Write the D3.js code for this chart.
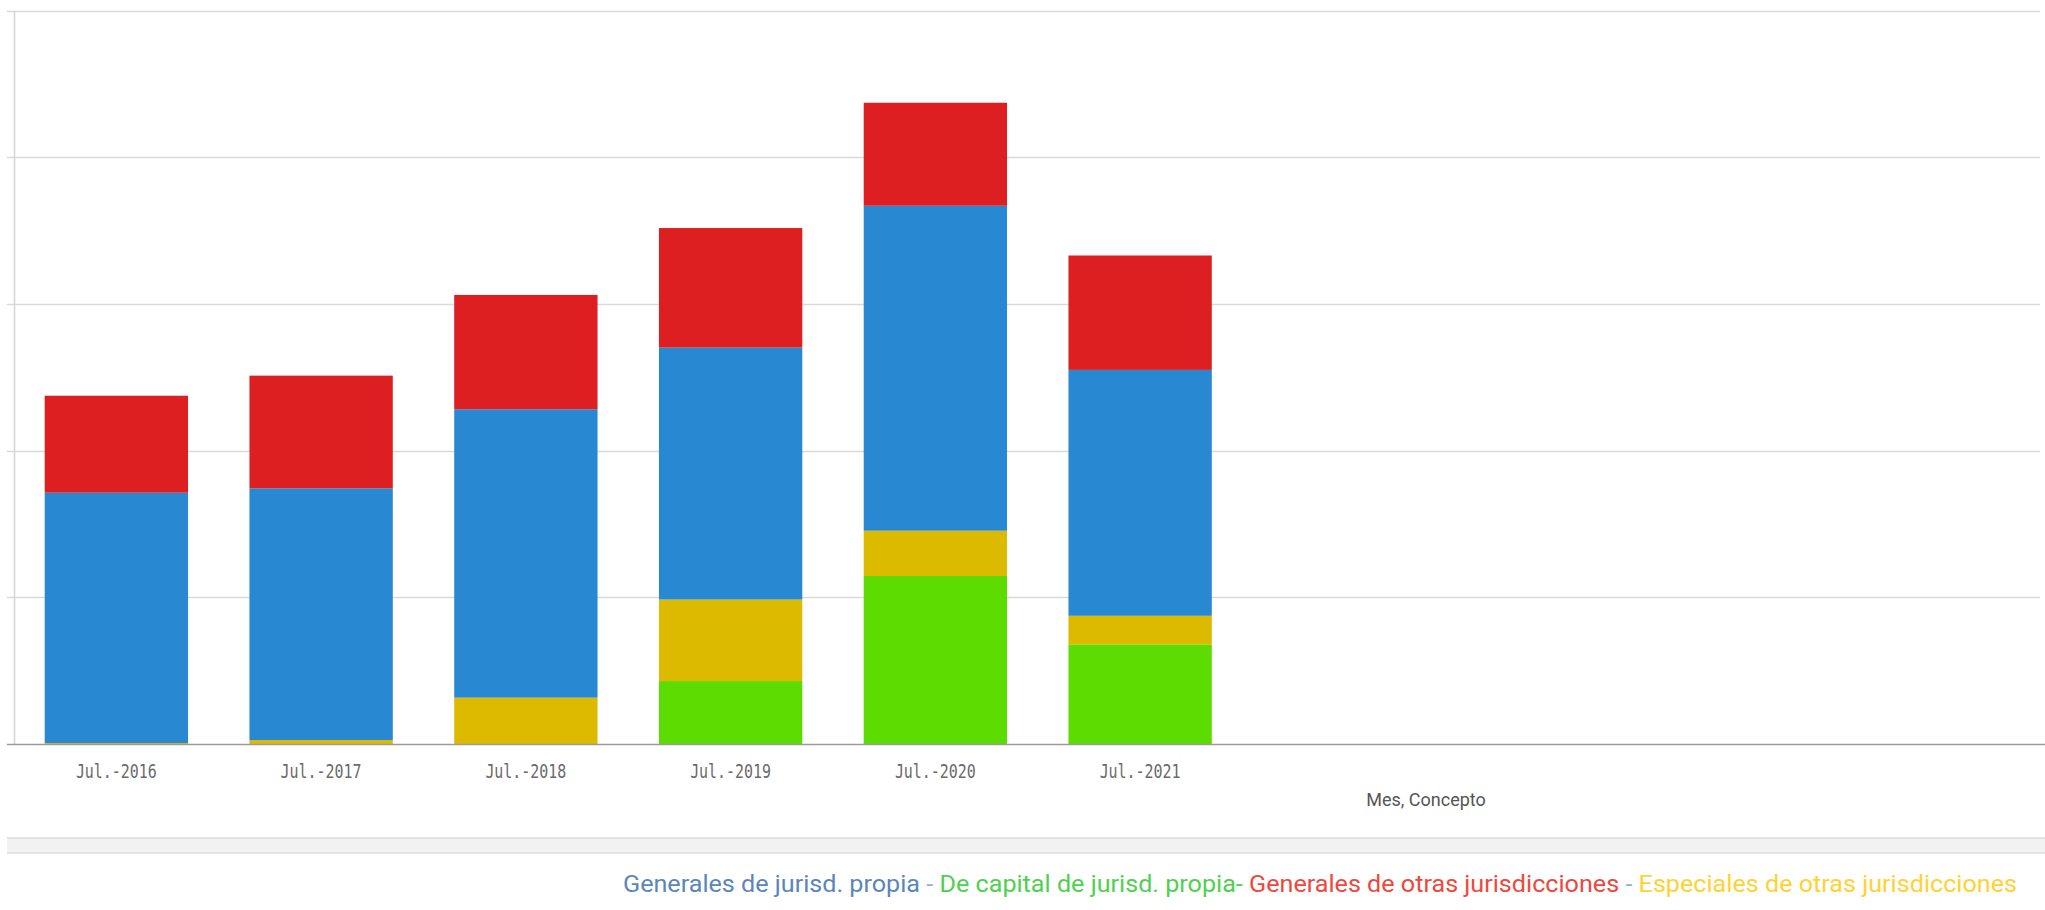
<!DOCTYPE html>
<html>
<head>
<meta charset="utf-8">
<script src="https://cdn.jsdelivr.net/npm/d3@7"></script>
<style>
  body { margin: 0; background: #fff; }
  svg { display: block; }
</style>
</head>
<body>
<div class="chart"></div>
<script>
// categories and series (bottom to top in each stack)
var months = ["Jul.-2016", "Jul.-2017", "Jul.-2018", "Jul.-2019", "Jul.-2020", "Jul.-2021"];
var deCapitalPropia = [0, 0, 0, 42.9, 114.5, 67.9];
var especialesOtras = [0.7, 2.7, 31.6, 55.6, 30.9, 19.5];
var generalesPropia = [170.6, 171.6, 196.6, 171.7, 221.5, 167.6];
var generalesOtras = [66.1, 76.8, 77.9, 81.5, 70.2, 78.0];
var yTicks = [0, 100, 200, 300, 400, 500];

var series = [
    { key: "De capital de jurisd. propia", values: deCapitalPropia, color: "#5cdc00" },
    { key: "Especiales de otras jurisdicciones", values: especialesOtras, color: "#dcba00" },
    { key: "Generales de jurisd. propia", values: generalesPropia, color: "#2988d2" },
    { key: "Generales de otras jurisdicciones", values: generalesOtras, color: "#dd1f22" }
];

var width = 2045, height = 910;
var plotLeft = 14, plotRight = 2040, plotTop = 10.5, plotBottom = 744;

var svg = d3.select(".chart")
    .append("svg")
    .attr("width", width)
    .attr("height", height);

var rows = months.map((m, i) => {
    var r = { month: m };
    series.forEach((s) => { r[s.key] = s.values[i]; });
    return r;
});

var stack = d3.stack().keys(series.map((s) => s.key));
var layers = stack(rows);

var x = d3.scaleBand()
    .domain(months)
    .range([plotLeft, plotLeft + 6 * 204.75])
    .paddingInner(0.3)
    .paddingOuter(0.15);

var y = d3.scaleLinear().domain([0, 500]).range([plotBottom, plotTop]);

// gridlines
svg.append("g")
    .selectAll("line")
    .data(yTicks.slice(1))
    .enter()
    .append("line")
    .attr("x1", 7)
    .attr("x2", plotRight)
    .attr("y1", (d) => Math.round(y(d)) + 0.5)
    .attr("y2", (d) => Math.round(y(d)) + 0.5)
    .style("stroke", "#d9d9d9")
    .style("stroke-width", "1.5px");

// left axis line
svg.append("line")
    .attr("x1", plotLeft + 0.5)
    .attr("x2", plotLeft + 0.5)
    .attr("y1", y(500))
    .attr("y2", plotBottom)
    .style("stroke", "#d4d4d4")
    .style("stroke-width", "1.5px");

// bars
svg.append("g")
    .selectAll("g")
    .data(layers)
    .enter()
    .append("g")
    .style("fill", (d, i) => series[i].color)
    .selectAll("rect")
    .data((d) => d)
    .enter()
    .append("rect")
    .attr("x", (d) => x(d.data.month))
    .attr("width", x.bandwidth())
    .attr("y", (d) => y(d[1]))
    .attr("height", (d) => y(d[0]) - y(d[1]));

// baseline
svg.append("line")
    .attr("x1", 7)
    .attr("x2", width)
    .attr("y1", plotBottom + 0.5)
    .attr("y2", plotBottom + 0.5)
    .style("stroke", "#9a9a9a")
    .style("stroke-width", "1.5px");

// x labels
var xAxis = svg.append("g")
    .attr("transform", `translate(0,${plotBottom})`)
    .call(d3.axisBottom(x).tickSize(0).tickPadding(0));
xAxis.select(".domain").remove();
xAxis.selectAll("text")
    .attr("y", 34)
    .attr("dy", null)
    .attr("textLength", 81)
    .attr("lengthAdjust", "spacingAndGlyphs")
    .style("font-family", "'DejaVu Sans Mono', monospace")
    .style("font-size", "19px")
    .style("fill", "#6b6b6b");

// axis title
svg.append("text")
    .attr("x", 1426)
    .attr("y", 806)
    .attr("text-anchor", "middle")
    .style("font-family", "Roboto, sans-serif")
    .style("font-size", "18px")
    .style("fill", "#555")
    .text("Mes, Concepto");

// grey band
svg.append("rect")
    .attr("x", 7)
    .attr("y", 838)
    .attr("width", width - 7)
    .attr("height", 15)
    .style("fill", "#f2f2f2");
[838, 853].forEach((yy) => {
    svg.append("line")
        .attr("x1", 7)
        .attr("x2", width)
        .attr("y1", yy)
        .attr("y2", yy)
        .style("stroke", "#dcdcdc")
        .style("stroke-width", "1.5px");
});

// legend
var legendParts = [
    { text: "Generales de jurisd. propia", color: "#5a86bb" },
    { text: " - ", color: "#93b2d2" },
    { text: "De capital de jurisd. propia-", color: "#4fd04f" },
    { text: " Generales de otras jurisdicciones", color: "#f0473c" },
    { text: " - ", color: "#93b2d2" },
    { text: "Especiales de otras jurisdicciones", color: "#ffd234" }
];

var legend = svg.append("text")
    .attr("x", 623)
    .attr("y", 892)
    .style("font-family", "Roboto, sans-serif")
    .style("font-size", "23px")
    .attr("xml:space", "preserve")
    .style("white-space", "pre");

legend.selectAll("tspan")
    .data(legendParts)
    .enter()
    .append("tspan")
    .style("fill", (d) => d.color)
    .text((d) => d.text);

legend.attr("textLength", 1394).attr("lengthAdjust", "spacingAndGlyphs");
</script>
</body>
</html>
